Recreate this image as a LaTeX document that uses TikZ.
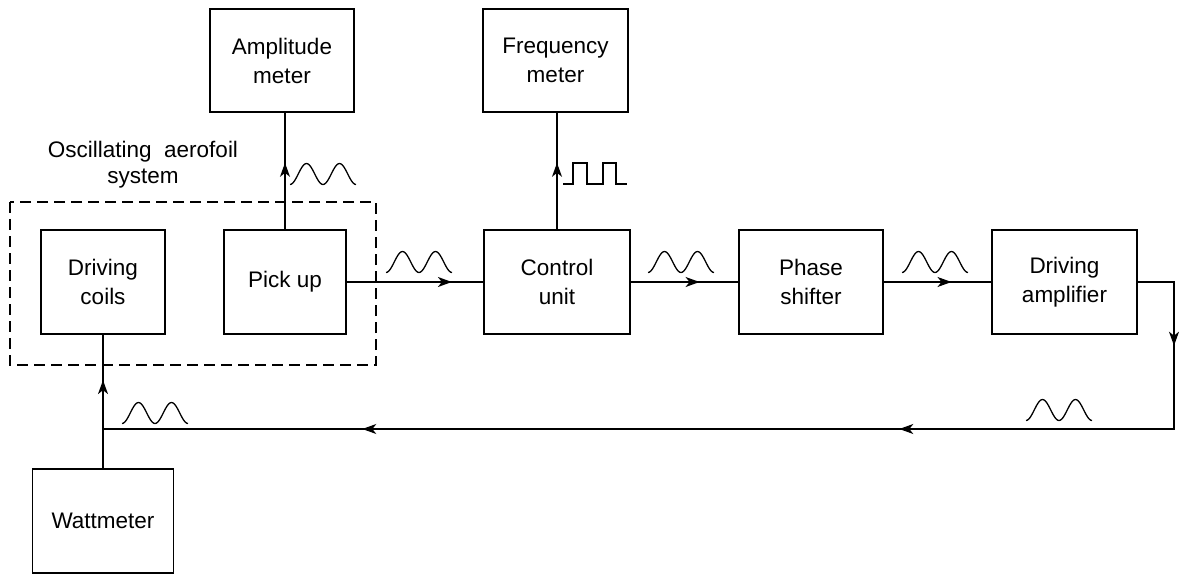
\documentclass[tikz,border=0pt]{standalone}
\usepackage{fontspec}
\setmainfont{Liberation Sans}
\usetikzlibrary{arrows.meta,decorations.markings}
\begin{document}
\begin{tikzpicture}[x=1pt,y=-1pt,line width=1.4pt,
  box/.style={draw,rectangle,inner sep=0pt,align=center,font=\fontsize{22.5}{29}\selectfont},
  lbl/.style={align=center,font=\fontsize{22.5}{26}\selectfont},
  midarrow/.style={postaction={decorate,decoration={markings,
     mark=at position #1 with {\arrow{Stealth[length=14pt,width=10pt,inset=4pt]}}}}},
  fbarrows/.style={postaction={decorate,decoration={markings,
     mark=at position 100pt with {\arrow{Stealth[length=14pt,width=10pt,inset=4pt]}},
     mark=at position 458pt with {\arrow{Stealth[length=14pt,width=10pt,inset=4pt]}},
     mark=at position 995pt with {\arrow{Stealth[length=14pt,width=10pt,inset=4pt]}}}}},
  sysbox/.style={dash pattern=on 11pt off 6pt,line width=1.4pt},
  sinew/.pic={\draw[line width=1.3pt] plot[domain=0:720,samples=49,smooth] ({\x/720*66},{10.5*cos(\x)});}
]
\useasboundingbox (0,0) rectangle (1179,575);

% boxes
\node[box,minimum width=144pt,minimum height=103pt] (A) at (282,60.5) {Amplitude\\meter};
\node[box,minimum width=145pt,minimum height=103pt] (F) at (555.5,60.5) {Frequency\\meter};
\node[box,minimum width=124pt,minimum height=104pt] (D) at (103,282) {Driving\\coils};
\node[box,minimum width=122pt,minimum height=104pt] (P) at (285,282) {Pick up};
\node[box,minimum width=146pt,minimum height=104pt] (C) at (557,282) {Control\\unit};
\node[box,minimum width=144pt,minimum height=104pt] (S) at (811,282) {Phase\\shifter};
\node[box,minimum width=145pt,minimum height=104pt] (V) at (1064.5,282) {Driving\\amplifier};
\node[box,minimum width=141pt,minimum height=104pt] (W) at (103,521) {Wattmeter};

% system outline
\draw[sysbox] (10,202) rectangle (376,365);
\node[lbl] (syslbl) at (143,165) {Oscillating\ \ aerofoil\\system};

% connectors
\draw[midarrow=0.57] (P.north) -- (P.north |- A.south);
\draw[midarrow=0.57] (C.north) -- (C.north |- F.south);
\draw[midarrow=0.77] (P.east) -- (C.west);
\draw[midarrow=0.64] (C.east) -- (S.west);
\draw[midarrow=0.63] (S.east) -- (V.west);
\coordinate (c1) at (1174,282);
\coordinate (c2) at (1174,429);
\coordinate (j) at (W.north |- c2);
\draw[fbarrows,line join=miter] (V.east) -- (c1) -- (c2) -- (j);
\draw[midarrow=0.66] (W.north) -- (D.south);

% waveforms
\pic at (290,174) {sinew};
\pic at (386,262) {sinew};
\pic at (648,262) {sinew};
\pic at (902,262) {sinew};
\pic at (1026,410) {sinew};
\pic at (122,413) {sinew};
\draw[line width=1.3pt] (563,184) -- (573,184) -- (573,163) -- (587,163) -- (587,184) -- (603,184) -- (603,163) -- (616,163) -- (616,184) -- (627,184);
\end{tikzpicture}
\end{document}
